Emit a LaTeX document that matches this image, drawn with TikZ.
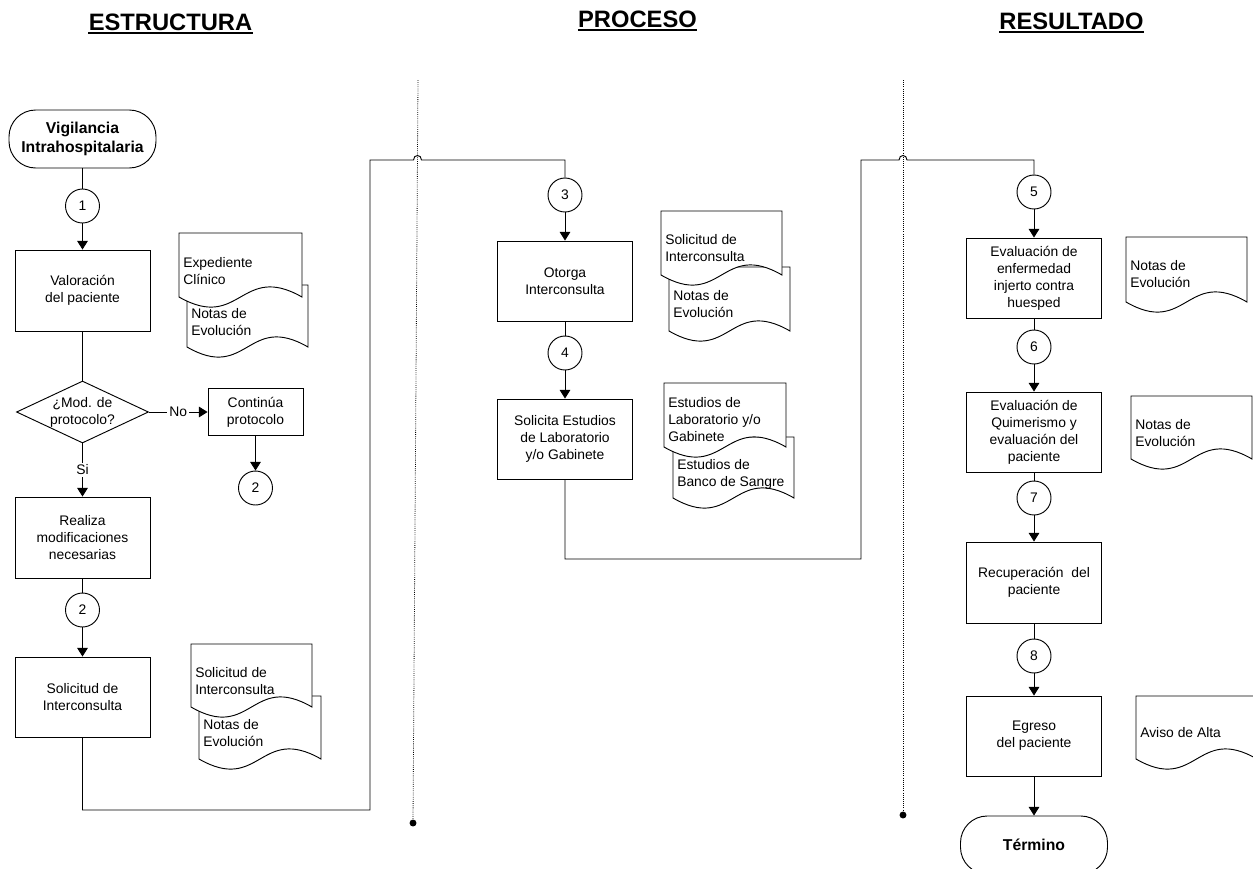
\documentclass[tikz,border=0pt]{standalone}
\usepackage{fontspec}
\setmainfont{Liberation Sans}
\usetikzlibrary{arrows.meta,shapes.geometric,calc}
\newcommand\docshape[4]{%
  \pgfmathsetmacro\dA{#1+#3}\pgfmathsetmacro\dM{#1+0.5*#3}%
  \pgfmathsetmacro\dB{#2+#4}\pgfmathsetmacro\dU{#2+#4-35}\pgfmathsetmacro\dD{#2+#4+35}%
  \filldraw[ln,fill=white] (#1,#2) -- (\dA,#2) -- (\dA,\dB) .. controls (\dM,\dU) and (\dM,\dD) .. (#1,\dB) -- cycle;}
\begin{document}
\begin{tikzpicture}[x=0.75pt,y=-0.75pt,
  every node/.style={font=\fontsize{10.4}{12.75}\selectfont},
  ln/.style={line width=0.7pt},
  arr/.style={ln,-{Triangle[width=8pt,length=6.5pt]}},
  box/.style={draw,line width=0.7pt,fill=white,minimum width=101.25pt,minimum height=60pt,align=center,inner sep=0pt},
  conn/.style={draw,circle,line width=0.7pt,minimum size=25.5pt,inner sep=0pt},
  term/.style={draw,line width=0.7pt,rounded corners=20pt,minimum width=110.25pt,minimum height=43.5pt,align=center,font=\fontsize{11.8}{14}\selectfont\bfseries},
  dec/.style={draw,diamond,line width=0.7pt,aspect=2.13,minimum width=99pt,minimum height=46.5pt,inner sep=0pt,align=center},
  head/.style={font=\fontsize{17.8}{20}\selectfont\bfseries,inner sep=0pt,anchor=base},
  lane/.style={line width=0.6pt,densely dotted},
  doctext/.style={anchor=west,align=left,inner sep=0pt},
  lab/.style={fill=white,inner sep=1.5pt}
]
\useasboundingbox (0,0) rectangle (1253,868);

% headers
\node[head] (h1) at (170.5,30) {ESTRUCTURA};
\node[head] (h2) at (637.5,27) {PROCESO};
\node[head] (h3) at (1071.5,29) {RESULTADO};
\foreach \h in {h1,h2,h3}
  \draw[line width=1.5pt] ([yshift=-2.6pt]\h.base west) -- ([yshift=-2.6pt]\h.base east);

% swimlane separators
\coordinate (L1top) at (418,80); \coordinate (L1bot) at (413,823);
\coordinate (L2top) at (903,80); \coordinate (L2bot) at (903,815);
\draw[lane] (L1top) -- (L1bot);
\draw[lane] (L2top) -- (L2bot);
\fill (L1bot) circle[radius=2.6pt];
\fill (L2bot) circle[radius=2.6pt];

% documents
\docshape{187}{285}{121}{62}
\node[doctext] (dA2) at (191,322) {Notas de\\Evolución};
\docshape{179}{233}{123}{64}
\node[doctext] (dA1) at (183,271) {Expediente\\Clínico};
\docshape{199}{696}{122}{63}
\node[doctext] (dB2) at (203,733) {Notas de\\Evolución};
\docshape{191}{644}{121}{63}
\node[doctext] (dB1) at (195,681) {Solicitud de\\Interconsulta};
\docshape{669}{267}{121}{64}
\node[doctext] (dC2) at (673,304) {Notas de\\Evolución};
\docshape{661}{211}{121}{64}
\node[doctext] (dC1) at (665,248) {Solicitud de\\Interconsulta};
\docshape{673}{437}{121}{61}
\node[doctext] (dD2) at (677,474) {Estudios de\\Banco de Sangre};
\docshape{664}{383}{122}{64}
\node[doctext] (dD1) at (668,420) {Estudios de\\Laboratorio y/o\\Gabinete};
\docshape{1126}{237}{121}{65}
\node[doctext] (dE) at (1130,274) {Notas de\\Evolución};
\docshape{1131}{396}{121}{63}
\node[doctext] (dF) at (1135,433) {Notas de\\Evolución};
\docshape{1136}{696}{121}{63}
\node[doctext] (dG) at (1140,733) {Aviso de Alta};

% left column
\node[term] (start) at (82.5,139) {Vigilancia\\Intrahospitalaria};
\node[conn] (c1) at (82.5,206) {1};
\node[box,minimum height=60.75pt] (val) at (82.5,290.5) {Valoración\\del paciente};
\node[dec] (dia) at (82.5,412) {¿Mod. de\\protocolo?};
\node[box,minimum width=71.25pt,minimum height=35.25pt] (cont) at (255.5,412) {Continúa\\protocolo};
\node[conn] (c2b) at (255.5,488) {2};
\node[box,minimum height=60.75pt] (rea) at (82.5,537.5) {Realiza\\modificaciones\\necesarias};
\node[conn] (c2) at (82.5,610) {2};
\node[box] (sol) at (82.5,697) {Solicitud de\\Interconsulta};

% middle column
\node[conn] (c3) at (565,195) {3};
\node[box] (oto) at (565,281) {Otorga\\Interconsulta};
\node[conn] (c4) at (565,353) {4};
\node[box] (sest) at (565,439) {Solicita Estudios\\de Laboratorio\\y/o Gabinete};

% right column
\node[conn] (c5) at (1034,192) {5};
\node[box] (ev1) at (1034,278) {Evaluación de\\enfermedad\\injerto contra\\huesped};
\node[conn] (c6) at (1034,347) {6};
\node[box] (ev2) at (1034,432) {Evaluación de\\Quimerismo y\\evaluación del\\paciente};
\node[conn] (c7) at (1034,498) {7};
\node[box,minimum height=60.75pt] (rec) at (1034,582.5) {Recuperación\ \ del\\paciente};
\node[conn] (c8) at (1034,656) {8};
\node[box] (egr) at (1034,736) {Egreso\\del paciente};
\node[term] (fin) at (1034,845) {Término};

% connectors left
\draw[ln] (start) -- (c1);
\draw[arr] (c1) -- (val);
\draw[ln] (val) -- (dia);
\draw[arr] (dia.east) -- node[lab]{No} (cont.west);
\draw[arr] (cont) -- (c2b);
\draw[arr] (dia.south) -- node[lab]{Si} (rea.north);
\draw[ln] (rea) -- (c2);
\draw[arr] (c2) -- (sol);

% long connector 1
\coordinate (k1) at (82.5,810); \coordinate (k2) at (370,810); \coordinate (k3) at (370,160);
\coordinate (hop1a) at (413.5,160); \coordinate (hop1b) at (421.5,160);
\draw[ln] (sol.south) -- (k1) -- (k2) -- (k3) -- (hop1a)
  .. controls (413.5,154) and (421.5,154) .. (hop1b) -- (c3.north |- k3) -- (c3.north);

% middle connectors
\draw[arr] (c3) -- (oto);
\draw[ln] (oto) -- (c4);
\draw[arr] (c4) -- (sest);

% long connector 2
\coordinate (m1) at (565,559); \coordinate (m2) at (861,559); \coordinate (m3) at (861,160);
\coordinate (hop2a) at (899,160); \coordinate (hop2b) at (907,160);
\draw[ln] (sest.south) -- (m1) -- (m2) -- (m3) -- (hop2a)
  .. controls (899,154) and (907,154) .. (hop2b) -- (c5.north |- m3) -- (c5.north);

% right connectors
\draw[arr] (c5) -- (ev1);
\draw[ln] (ev1) -- (c6);
\draw[arr] (c6) -- (ev2);
\draw[ln] (ev2) -- (c7);
\draw[arr] (c7) -- (rec);
\draw[ln] (rec) -- (c8);
\draw[arr] (c8) -- (egr);
\draw[arr] (egr) -- (fin);
\end{tikzpicture}
\end{document}
